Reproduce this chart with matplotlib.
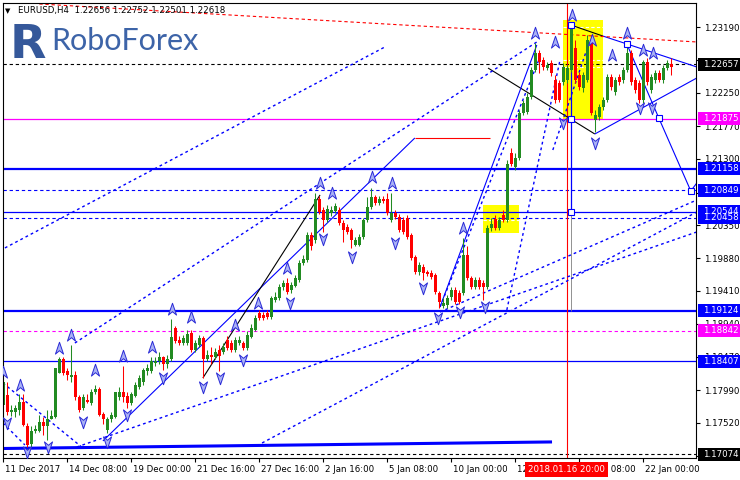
import matplotlib
matplotlib.use("Agg")
import matplotlib.pyplot as plt
import numpy as np
from matplotlib.path import Path
from matplotlib.patches import Rectangle
import matplotlib.transforms as mtransforms

# ---------------- data ----------------
opens = [1.1778, 1.1792, 1.1767, 1.1768, 1.1771, 1.1782, 1.1748, 1.1722, 1.1741, 1.1741,
         1.1754, 1.1748, 1.1758, 1.1761, 1.1824, 1.1843, 1.1827, 1.1818, 1.1821, 1.1789,
         1.1774, 1.1785, 1.1781, 1.1796, 1.1800, 1.1765, 1.1742, 1.1757, 1.1761, 1.1789,
         1.1796, 1.1790, 1.1781, 1.1790, 1.1803, 1.1810, 1.1826, 1.1827, 1.1838, 1.1840,
         1.1846, 1.1836, 1.1843, 1.1888, 1.1871, 1.1867, 1.1867, 1.1881, 1.1857, 1.1864,
         1.1874, 1.1843, 1.1850, 1.1847, 1.1857, 1.1854, 1.1871, 1.1867, 1.1857, 1.1867,
         1.1866, 1.1860, 1.1875, 1.1885, 1.1910, 1.1907, 1.1910, 1.1904, 1.1928, 1.1931,
         1.1947, 1.1953, 1.1943, 1.1948, 1.1957, 1.1981, 1.1985, 1.2021, 1.2014, 1.2073,
         1.2057, 1.2043, 1.2052, 1.2055, 1.2057, 1.2039, 1.2033, 1.2028, 1.2007, 1.2007,
         1.2018, 1.2043, 1.2061, 1.2075, 1.2067, 1.2073, 1.2072, 1.2043, 1.2052, 1.2047,
         1.2043, 1.2045, 1.2021, 1.1990, 1.1968, 1.1975, 1.1968, 1.1967, 1.1964, 1.1938,
         1.1920, 1.1921, 1.1932, 1.1943, 1.1938, 1.1938, 1.1993, 1.1960, 1.1947, 1.1957,
         1.1953, 1.1947, 1.2031, 1.2044, 1.2031, 1.2050, 1.2043, 1.2138, 1.2118, 1.2132,
         1.2196, 1.2197, 1.2219, 1.2258, 1.2282, 1.2272, 1.2261, 1.2268, 1.2243, 1.2239,
         1.2240, 1.2243, 1.2258, 1.2289, 1.2251, 1.2232, 1.2243, 1.2301, 1.2186, 1.2190,
         1.2205, 1.2215, 1.2248, 1.2226, 1.2248, 1.2243, 1.2258, 1.2282, 1.2243, 1.2239,
         1.2215, 1.2269, 1.2229, 1.2243, 1.2253, 1.2243, 1.2261, 1.2266]
highs = [1.1817, 1.1811, 1.1777, 1.1778, 1.1793, 1.1793, 1.1752, 1.1747, 1.1749, 1.1764,
         1.1761, 1.1771, 1.1771, 1.1831, 1.1846, 1.1846, 1.1831, 1.1864, 1.1826, 1.1792,
         1.1793, 1.1793, 1.1800, 1.1807, 1.1803, 1.1768, 1.1761, 1.1768, 1.1797, 1.1803,
         1.1833, 1.1797, 1.1797, 1.1811, 1.1821, 1.1831, 1.1836, 1.1846, 1.1847, 1.1854,
         1.1848, 1.1850, 1.1901, 1.1891, 1.1877, 1.1878, 1.1885, 1.1885, 1.1871, 1.1878,
         1.1877, 1.1857, 1.1861, 1.1860, 1.1863, 1.1867, 1.1877, 1.1871, 1.1875, 1.1877,
         1.1870, 1.1883, 1.1893, 1.1907, 1.1914, 1.1911, 1.1914, 1.1934, 1.1940, 1.1951,
         1.1957, 1.1960, 1.1954, 1.1964, 1.1985, 1.1993, 1.2025, 1.2025, 1.2082, 1.2077,
         1.2061, 1.2064, 1.2062, 1.2067, 1.2061, 1.2043, 1.2037, 1.2031, 1.2018, 1.2023,
         1.2045, 1.2075, 1.2089, 1.2079, 1.2077, 1.2077, 1.2082, 1.2082, 1.2057, 1.2051,
         1.2047, 1.2050, 1.2024, 1.1993, 1.1983, 1.1980, 1.1971, 1.1971, 1.1967, 1.1941,
         1.1931, 1.1935, 1.1947, 1.1946, 1.1943, 1.2017, 1.2005, 1.1963, 1.1961, 1.1961,
         1.1957, 1.2035, 1.2045, 1.2050, 1.2047, 1.2057, 1.2128, 1.2146, 1.2139, 1.2200,
         1.2215, 1.2225, 1.2262, 1.2296, 1.2286, 1.2276, 1.2269, 1.2272, 1.2251, 1.2243,
         1.2268, 1.2265, 1.2326, 1.2301, 1.2255, 1.2255, 1.2308, 1.2308, 1.2200, 1.2209,
         1.2219, 1.2252, 1.2252, 1.2248, 1.2252, 1.2262, 1.2291, 1.2286, 1.2248, 1.2243,
         1.2272, 1.2274, 1.2252, 1.2258, 1.2258, 1.2265, 1.2272, 1.2275]
lows = [1.1774, 1.1764, 1.1762, 1.1761, 1.1764, 1.1747, 1.1718, 1.1718, 1.1737, 1.1739,
        1.1735, 1.1728, 1.1757, 1.1759, 1.1823, 1.1821, 1.1814, 1.1811, 1.1785, 1.1767,
        1.1771, 1.1781, 1.1778, 1.1793, 1.1762, 1.1751, 1.1738, 1.1754, 1.1759, 1.1785,
        1.1782, 1.1774, 1.1778, 1.1789, 1.1800, 1.1807, 1.1821, 1.1824, 1.1834, 1.1837,
        1.1828, 1.1831, 1.1840, 1.1867, 1.1864, 1.1864, 1.1864, 1.1854, 1.1854, 1.1861,
        1.1817, 1.1840, 1.1836, 1.1844, 1.1827, 1.1851, 1.1857, 1.1854, 1.1854, 1.1863,
        1.1857, 1.1857, 1.1873, 1.1883, 1.1900, 1.1900, 1.1901, 1.1901, 1.1925, 1.1928,
        1.1943, 1.1937, 1.1938, 1.1946, 1.1954, 1.1978, 1.1983, 1.2000, 1.2010, 1.2051,
        1.2025, 1.2040, 1.2048, 1.2052, 1.2035, 1.2011, 1.2023, 1.2003, 1.2005, 1.2005,
        1.2016, 1.2040, 1.2058, 1.2064, 1.2064, 1.2067, 1.2050, 1.2040, 1.2044, 1.2025,
        1.2023, 1.2016, 1.1985, 1.1966, 1.1964, 1.1956, 1.1963, 1.1958, 1.1937, 1.1917,
        1.1917, 1.1917, 1.1928, 1.1923, 1.1923, 1.1935, 1.1957, 1.1944, 1.1944, 1.1944,
        1.1928, 1.1944, 1.2027, 1.2028, 1.2028, 1.2040, 1.2040, 1.2120, 1.2114, 1.2128,
        1.2193, 1.2195, 1.2216, 1.2255, 1.2253, 1.2258, 1.2258, 1.2249, 1.2210, 1.2212,
        1.2236, 1.2239, 1.2255, 1.2239, 1.2229, 1.2226, 1.2240, 1.2193, 1.2168, 1.2186,
        1.2200, 1.2212, 1.2229, 1.2222, 1.2236, 1.2239, 1.2255, 1.2236, 1.2225, 1.2210,
        1.2210, 1.2236, 1.2225, 1.2239, 1.2240, 1.2239, 1.2258, 1.2250]
closes = [1.1811, 1.1767, 1.1771, 1.1774, 1.1782, 1.1749, 1.1721, 1.1741, 1.1744, 1.1754,
          1.1748, 1.1758, 1.1762, 1.1831, 1.1843, 1.1824, 1.1820, 1.1821, 1.1789, 1.1771,
          1.1789, 1.1782, 1.1797, 1.1800, 1.1764, 1.1757, 1.1757, 1.1764, 1.1796, 1.1796,
          1.1789, 1.1781, 1.1793, 1.1806, 1.1817, 1.1828, 1.1831, 1.1840, 1.1841, 1.1846,
          1.1836, 1.1843, 1.1875, 1.1870, 1.1867, 1.1873, 1.1880, 1.1857, 1.1867, 1.1874,
          1.1843, 1.1850, 1.1847, 1.1854, 1.1848, 1.1861, 1.1860, 1.1857, 1.1871, 1.1871,
          1.1860, 1.1878, 1.1888, 1.1903, 1.1903, 1.1903, 1.1904, 1.1931, 1.1932, 1.1947,
          1.1953, 1.1940, 1.1950, 1.1960, 1.1981, 1.1987, 1.2021, 1.2005, 1.2072, 1.2054,
          1.2043, 1.2058, 1.2057, 1.2062, 1.2039, 1.2028, 1.2025, 1.2014, 1.2014, 1.2018,
          1.2043, 1.2061, 1.2075, 1.2067, 1.2072, 1.2070, 1.2052, 1.2052, 1.2047, 1.2028,
          1.2025, 1.2018, 1.1988, 1.1968, 1.1978, 1.1967, 1.1966, 1.1961, 1.1940, 1.1925,
          1.1924, 1.1931, 1.1943, 1.1925, 1.1925, 1.1993, 1.1960, 1.1947, 1.1957, 1.1947,
          1.1947, 1.2031, 1.2037, 1.2031, 1.2043, 1.2043, 1.2123, 1.2123, 1.2132, 1.2196,
          1.2210, 1.2219, 1.2258, 1.2282, 1.2269, 1.2262, 1.2265, 1.2253, 1.2215, 1.2215,
          1.2262, 1.2261, 1.2322, 1.2243, 1.2233, 1.2251, 1.2301, 1.2196, 1.2193, 1.2205,
          1.2215, 1.2248, 1.2233, 1.2243, 1.2240, 1.2258, 1.2282, 1.2240, 1.2229, 1.2215,
          1.2269, 1.2240, 1.2248, 1.2253, 1.2243, 1.2261, 1.2268, 1.2262]

xtick_bars = [0, 16, 32, 48, 64, 80, 96, 112, 128, 144, 160]
xtick_labels = ["11 Dec 2017", "14 Dec 08:00", "19 Dec 00:00", "21 Dec 16:00",
                "27 Dec 16:00", "2 Jan 16:00", "5 Jan 08:00", "10 Jan 00:00",
                "12 Jan 16:00", "17 Jan 08:00", "22 Jan 00:00"]
ytick_values = [1.23190, 1.22720, 1.22250, 1.21770, 1.21300, 1.20820, 1.20350,
                1.19880, 1.19410, 1.18940, 1.18470, 1.17990, 1.17520, 1.17050]
# scale values fully covered by price tags (tick mark only)
ytick_hidden = [1.22720, 1.20820, 1.17050]

# horizontal levels: (price, colour, style, width)
levels = [(1.21158, "#0000ff", "-", 1.6), (1.19124, "#0000ff", "-", 1.6),
          (1.18407, "#0000ff", "-", 0.9), (1.20544, "#0000ff", "-", 0.9),
          (1.21875, "#ff00ff", "-", 0.9), (1.20458, "#0000ff", "--", 0.8),
          (1.20849, "#0000ff", "--", 0.8), (1.18842, "#ff00ff", "--", 0.8),
          (1.22657, "#000000", "--", 0.8), (1.17074, "#000000", "--", 0.8)]
# price labels on the right scale: (price, background)
price_tags = [(1.22657, "#000000"), (1.21875, "#ff00ff"), (1.21158, "#0000ff"),
              (1.20849, "#0000ff"), (1.20544, "#0000ff"), (1.20458, "#0000ff"),
              (1.19124, "#0000ff"), (1.18842, "#ff00ff"), (1.18407, "#0000ff"),
              (1.17074, "#000000")]

# trend lines: (bar indices, prices, colour, style, width)
trend_lines = [
    ([-0.1, 137.2], [1.17154, 1.17248], "#0000ff", "-", 2.2),
    ([24.9, 102.9], [1.17262, 1.21601], "#0000ff", "-", 0.8),
    ([102.9, 121.7], [1.21601, 1.21601], "#ff0000", "-", 0.8),
    ([49.9, 79.2], [1.18164, 1.20785], "#000000", "-", 0.8),
    ([121.2, 147.9], [1.22603, 1.21658], "#000000", "-", 0.8),
    ([141.9, 149.9], [1.23219, 1.23061], "#000000", "-", 0.8),
    ([149.9, 173.4], [1.23061, 1.22618], "#0000ff", "-", 0.8),
    ([147.9, 173.4], [1.21658, 1.22460], "#0000ff", "-", 0.8),
    ([155.9, 163.9, 171.9, 173.4], [1.22947, 1.21887, 1.20842, 1.20956], "#0000ff", "-", 0.8),
    ([141.9, 141.9], [1.23219, 1.20541], "#0000ff", "-", 0.9),
    ([141.9, 141.9], [1.20541, 1.19124], "#808080", "-", 0.6),
    ([109.2, 133.4], [1.19181, 1.22933], "#0000ff", "-", 0.8),
    ([0.4, 95.4], [1.20026, 1.22904], "#0000ff", ":", 1.0),
    ([17.9, 133.4], [1.18665, 1.22976], "#0000ff", ":", 1.0),
    ([64.7, 173.4], [1.17233, 1.20541], "#0000ff", ":", 1.0),
    ([109.2, 173.4], [1.19109, 1.20713], "#0000ff", ":", 1.0),
    ([18.4, 173.4], [1.17176, 1.20255], "#0000ff", ":", 1.0),
    ([109.2, 134.2], [1.19181, 1.22761], "#0000ff", ":", 1.0),
    ([125.9, 139.2], [1.19138, 1.22718], "#0000ff", ":", 1.0),
    ([137.4, 146.7], [1.21429, 1.23004], "#0000ff", ":", 1.0),
    ([-0.1, 19.9], [1.18092, 1.17162], "#0000ff", ":", 1.0),
    ([-0.1, 5.4], [1.17520, 1.17205], "#0000ff", ":", 1.0),
    ([9.0, 173.4], [1.23520, 1.22976], "#ff0000", "--", 0.8),
]
# highlighted zones: (bar from, bar to, price low, price high)
zones = [(139.9, 149.9, 1.21873, 1.23291), (119.9, 128.9, 1.20240, 1.20641)]
# dashed levels drawn inside the zones: (bar from, bar to, price)
zone_levels = [(139.9, 149.9, 1.23190), (139.9, 149.9, 1.22718), (139.9, 149.9, 1.22618),
               (119.9, 128.9, 1.20541), (119.9, 128.9, 1.20427)]
# swing points marked with squares
swing_bars = [141.9, 155.9, 141.9, 163.9, 171.9, 141.9]
swing_prices = [1.23219, 1.22947, 1.21873, 1.21887, 1.20842, 1.20541]
# fractal arrows
up_bars = [0.0, 4.2, 13.9, 16.9, 22.9, 29.9, 37.2, 42.2, 46.9, 57.9, 63.7, 70.9, 79.2,
           82.2, 92.2, 97.2, 114.9, 132.9, 137.9, 142.2, 147.2, 152.2, 155.9, 159.9, 162.4]
up_prices = [1.1825, 1.1806, 1.1859, 1.1878, 1.1828, 1.1848, 1.1861, 1.1915, 1.1904,
             1.1892, 1.1924, 1.1974, 1.2096, 1.2081, 1.2104, 1.2096, 1.2031, 1.2310,
             1.2298, 1.2336, 1.2300, 1.2279, 1.2310, 1.2286, 1.2282]
down_bars = [0.9, 5.9, 11.2, 19.9, 25.9, 30.9, 39.9, 49.9, 54.2, 59.9, 71.7, 79.9, 87.2,
             97.9, 104.9, 108.7, 114.2, 120.4, 139.9, 147.9, 159.2, 162.2]
down_prices = [1.1752, 1.1710, 1.1718, 1.1753, 1.1725, 1.1763, 1.1816, 1.1804, 1.1816,
               1.1842, 1.1924, 1.2015, 1.1990, 1.2010, 1.1945, 1.1903, 1.1911, 1.1918,
               1.2182, 1.2153, 1.2203, 1.2203]
cursor_bar = 140.9
cursor_label = "2018.01.16 20:00"
header = "EURUSD,H4  1.22656 1.22752 1.22501 1.22618"

# ---------------- figure ----------------
W, H = 740, 480
fig = plt.figure(figsize=(W / 100, H / 100), dpi=100)
fig.patch.set_facecolor("white")
ax = fig.add_axes([3 / W, 22 / H, 693 / W, 455 / H])
ax.set_xlim(-0.075, 173.2)
ax.set_ylim(1.17018, 1.23534)
ax.set_facecolor("white")

FS = 6.2
FONT = "DejaVu Sans"

for b0, b1, p0, p1 in zones:
    ax.add_patch(Rectangle((b0, p0), b1 - b0, p1 - p0, facecolor="#ffff00",
                           edgecolor="none", zorder=0.5))
for b0, b1, p in zone_levels:
    ax.plot([b0, b1], [p, p], color="white", lw=0.8, dashes=(3, 2), zorder=0.6)

for p, c, ls, lw in levels:
    if ls == "--":
        ax.axhline(p, color=c, lw=lw, dashes=(3, 2.5), zorder=1)
    else:
        ax.axhline(p, color=c, lw=lw, zorder=1)

ax.axvline(cursor_bar, color="#ff0000", lw=0.8, zorder=1)

for xs, ps, c, ls, lw in trend_lines:
    if ls == ":":
        ax.plot(xs, ps, color=c, lw=lw, dashes=(2, 2.2), zorder=1.2)
    elif ls == "--":
        ax.plot(xs, ps, color=c, lw=lw, dashes=(3, 2.5), zorder=1.2)
    else:
        ax.plot(xs, ps, color=c, lw=lw, zorder=1.2, solid_capstyle="butt")

# candles
o = np.array(opens); h = np.array(highs); l = np.array(lows); c = np.array(closes)
xb = np.arange(len(o))
up = c >= o
cols = np.where(up, "#228b22", "#ff0000")
ax.vlines(xb, l, h, colors=cols, lw=0.75, zorder=2)
body = np.maximum(np.abs(c - o), 0.00012)
ax.bar(xb, body, bottom=np.minimum(o, c), width=0.72, color=cols, linewidth=0, zorder=2.1)

ax.plot(swing_bars, swing_prices, ls="none", marker="s", ms=4.5, mfc="white",
        mec="#0000ff", mew=0.8, zorder=3)

up_arrow = Path([(0, 1), (0.65, -0.9), (0, -0.35), (-0.65, -0.9), (0, 1)],
                [Path.MOVETO, Path.LINETO, Path.LINETO, Path.LINETO, Path.CLOSEPOLY])
down_arrow = Path([(0, -1), (0.65, 0.9), (0, 0.35), (-0.65, 0.9), (0, -1)],
                  [Path.MOVETO, Path.LINETO, Path.LINETO, Path.LINETO, Path.CLOSEPOLY])
ax.plot(up_bars, up_prices, ls="none", marker=up_arrow, ms=9, mfc="#a9b2f5",
        mec="#2a2ad6", mew=0.7, zorder=3)
ax.plot(down_bars, down_prices, ls="none", marker=down_arrow, ms=9, mfc="#a9b2f5",
        mec="#2a2ad6", mew=0.7, zorder=3)

for s in ax.spines.values():
    s.set_color("black"); s.set_linewidth(0.8)
ax.yaxis.tick_right()
ax.set_yticks(ytick_values)
ax.set_yticklabels(["" if v in ytick_hidden else f"{v:.5f}" for v in ytick_values],
                   fontsize=FS, family=FONT)
ax.set_xticks(xtick_bars)
ax.set_xticklabels(xtick_labels, fontsize=FS, family=FONT, ha="left")
ax.tick_params(axis="y", direction="out", length=3, width=0.8, pad=3)
ax.tick_params(axis="x", direction="out", length=3, width=0.8, pad=2)
for lab in ax.get_xticklabels():
    lab.set_transform(lab.get_transform() + mtransforms.ScaledTranslation(2 / 100, 0, fig.dpi_scale_trans))

tr = mtransforms.blended_transform_factory(ax.transAxes, ax.transData)
hh = 6.5 * (1.23534 - 1.17018) / 455
for p, bg in price_tags:
    ax.add_patch(Rectangle((1.003, p - hh), 0.07, 2 * hh, transform=tr, facecolor=bg,
                           edgecolor="none", clip_on=False, zorder=10))
    ax.text(1.0095, p, f"{p:.5f}", transform=tr, color="white", fontsize=FS,
            family=FONT, va="center", ha="left", clip_on=False, zorder=11)

trx = mtransforms.blended_transform_factory(ax.transData, ax.transAxes)
ax.text(cursor_bar, -0.025, cursor_label, transform=trx, color="white", fontsize=FS,
        family=FONT, va="center", ha="center", zorder=11, clip_on=False,
        bbox=dict(boxstyle="square,pad=0.35", facecolor="#ff0000", edgecolor="none"))

fig.text(5 / W, 1 - 11 / H, "\u25bc", fontsize=5, family=FONT, va="center", ha="left")
fig.text(18 / W, 1 - 11 / H, header, fontsize=FS, family=FONT, va="center", ha="left")

fig.text(10 / W, 1 - 58 / H, "R", fontsize=34, family="DejaVu Sans", weight="heavy",
         color="#35589a", va="baseline", ha="left")
fig.text(51 / W, 1 - 50 / H, "RoboForex", fontsize=22, family="Lato",
         color="#3d64a8", va="baseline", ha="left")

fig.savefig("out.png", dpi=100)
